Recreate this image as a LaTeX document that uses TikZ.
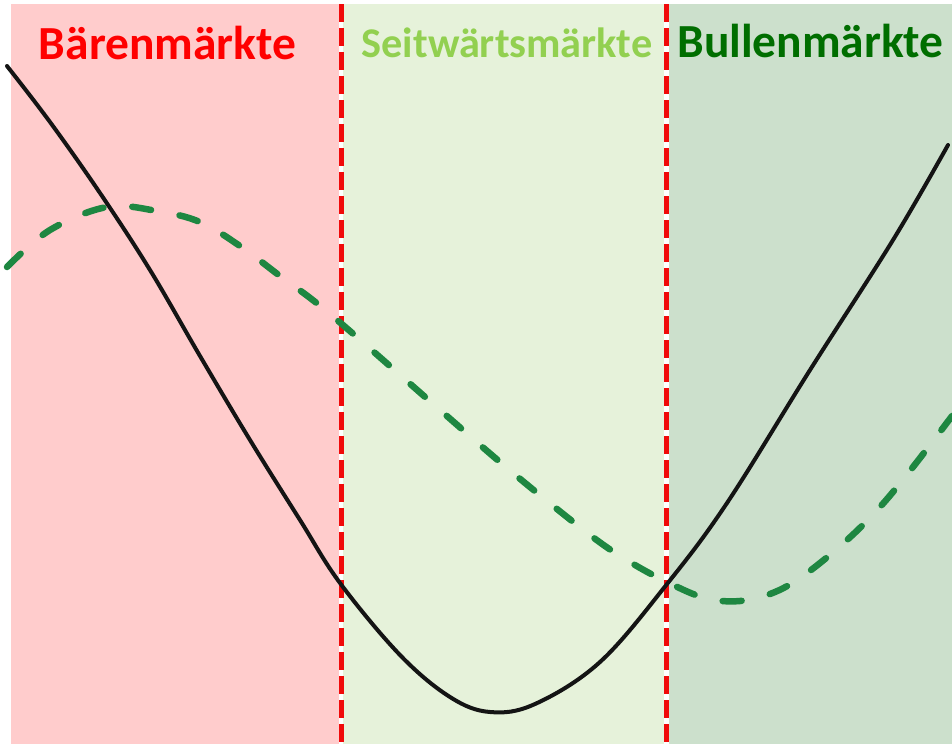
\documentclass[tikz,border=0pt]{standalone}
\usepackage{fontspec}
\setmainfont{Carlito}
\definecolor{bearbg}{RGB}{255,204,204}
\definecolor{sidebg}{RGB}{230,242,218}
\definecolor{bullbg}{RGB}{204,224,204}
\definecolor{bearred}{RGB}{255,0,0}
\definecolor{sidegreen}{RGB}{146,208,80}
\definecolor{bullgreen}{RGB}{0,110,0}
\definecolor{dashgreen}{RGB}{30,135,65}
\definecolor{dividerred}{RGB}{240,10,10}
\tikzset{
  divider/.style={draw=dividerred, line width=5pt, dash pattern=on 18pt off 6pt},
  pricecurve/.style={draw=black!92, line width=4pt, line cap=round},
  trendcurve/.style={draw=dashgreen, line width=6.5pt, line cap=round, dash pattern=on 19pt off 29pt},
  marketlabel/.style={font=\bfseries, inner sep=0pt, anchor=base}
}
\begin{document}
\begin{tikzpicture}[x=1pt,y=-1pt]
\useasboundingbox (0,0) rectangle (952,744);
\fill[white] (0,0) rectangle (952,744);
% backgrounds
\fill[bearbg] (11,4) rectangle (339,744);
\fill[sidebg] (343,4) rectangle (664,744);
\fill[bullbg] (669,4) rectangle (952,744);
% dividers
\coordinate (d1top) at (341,4);
\coordinate (d1bot) at (341,744);
\coordinate (d2top) at (666.5,4);
\coordinate (d2bot) at (666.5,744);
\draw[divider] (d1top) -- (d1bot);
\draw[divider] (d2top) -- (d2bot);
% green dashed curve
\draw[trendcurve] plot[smooth, tension=0.6] coordinates {
 (7,267) (50,230) (107,207) (157,211) (200,222) (240,246) (280,276) (330,314)
 (440,410) (513,473) (590,535) (630,562) (667,582) (705,598) (740,601) (775,592)
 (807,573) (847,540) (880,507) (913,467) (952,416)};
% black curve
\draw[pricecurve] plot[smooth, tension=0.6] coordinates {
 (7,66) (50,122) (100,193) (150,270) (200,356) (250,440) (300,520) (340,583)
 (400,655) (450,697) (490,712) (535,704) (600,662) (667,584) (727,503)
 (810,370) (893,240) (948,145)};
% labels
\node[marketlabel, text=bearred, font=\bfseries\fontsize{47.5}{50}\selectfont] (bear) at (167.5,59) {Bärenmärkte};
\node[marketlabel, text=sidegreen, font=\bfseries\fontsize{42.3}{46}\selectfont] (side) at (507,57) {Seitwärtsmärkte};
\node[marketlabel, text=bullgreen, font=\bfseries\fontsize{47.5}{50}\selectfont] (bull) at (810.5,57) {Bullenmärkte};
\end{tikzpicture}
\end{document}
